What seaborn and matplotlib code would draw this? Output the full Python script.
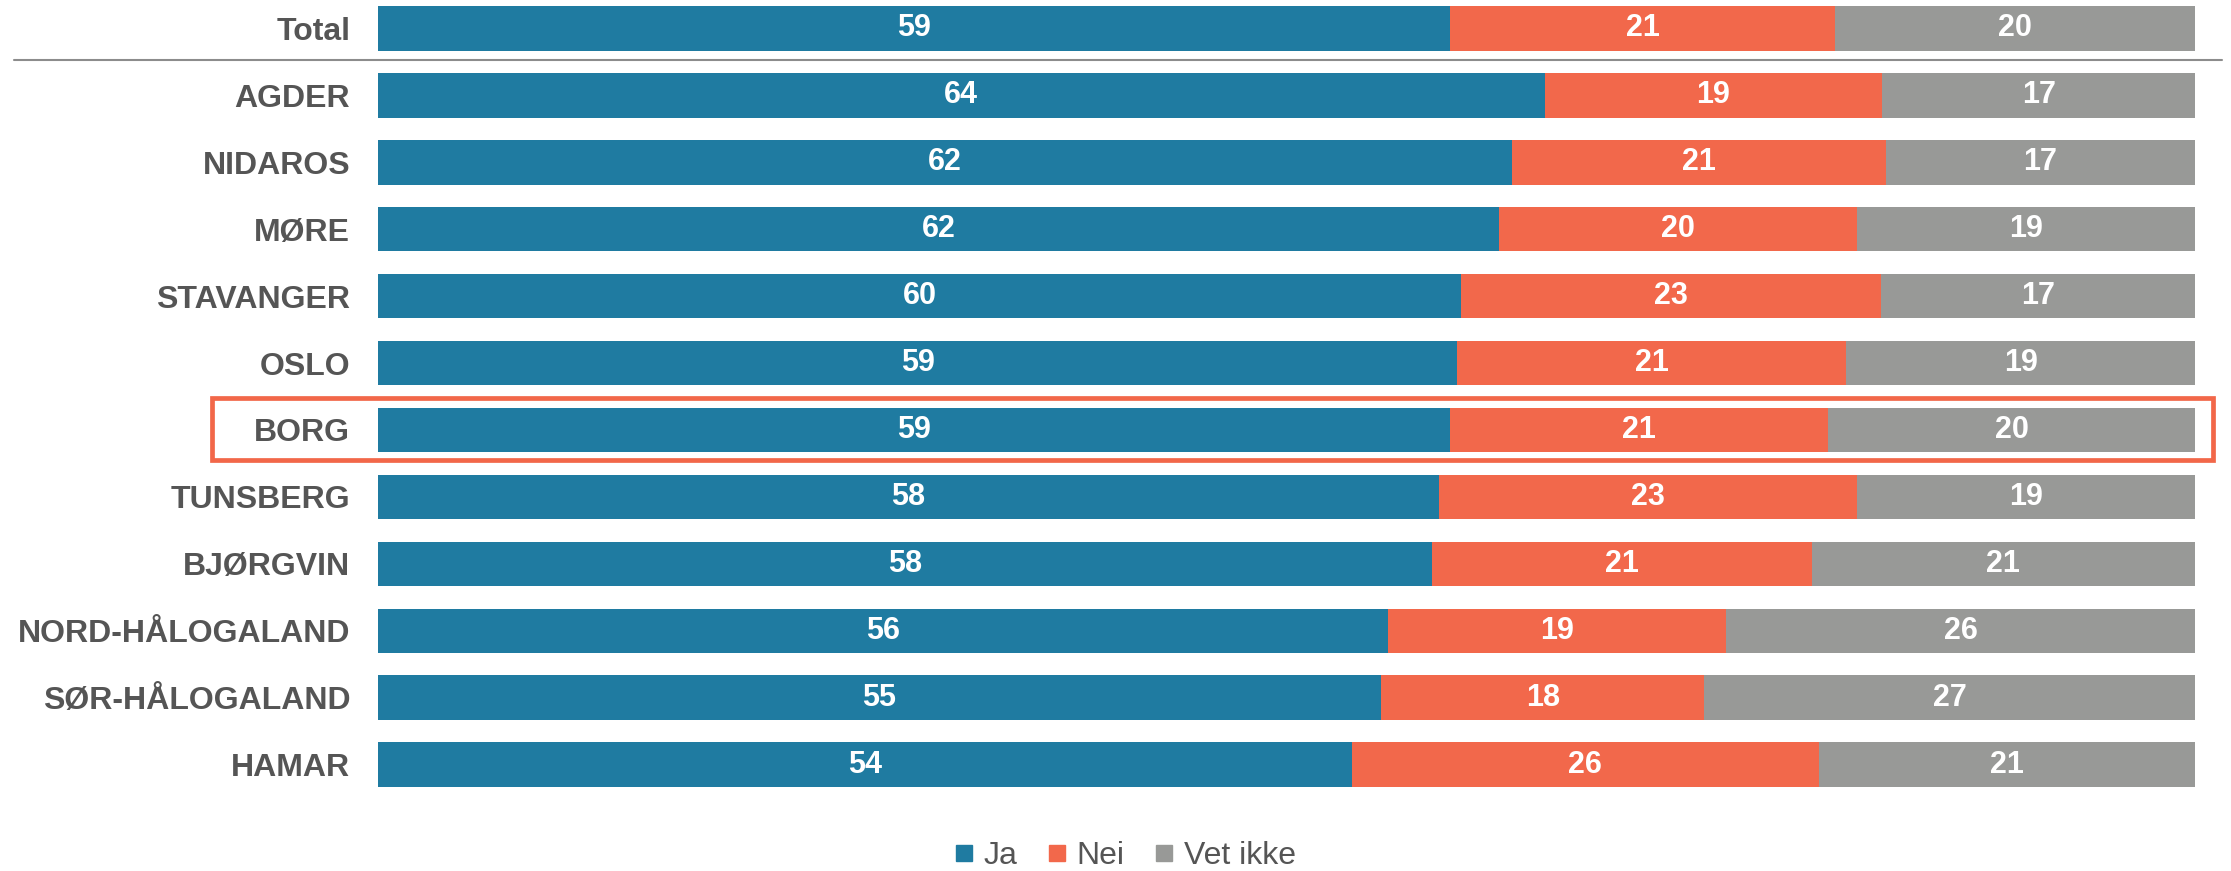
import numpy as np
import pandas as pd
import seaborn as sns
import matplotlib
matplotlib.use('Agg')
import matplotlib.pyplot as plt
from matplotlib.lines import Line2D
from matplotlib.patches import Rectangle

regions = ['Total', 'AGDER', 'NIDAROS', 'MØRE', 'STAVANGER', 'OSLO', 'BORG',
           'TUNSBERG', 'BJØRGVIN', 'NORD-HÅLOGALAND', 'SØR-HÅLOGALAND', 'HAMAR']
ja = [59.0, 64.2, 62.4, 61.7, 59.6, 59.4, 59.0, 58.4, 58.0, 55.6, 55.2, 53.6]
nei = [21.2, 18.6, 20.6, 19.7, 23.1, 21.4, 20.8, 23.0, 20.9, 18.6, 17.8, 25.7]
vet_ikke = [19.8, 17.2, 17.0, 18.6, 17.3, 19.2, 20.2, 18.6, 21.1, 25.8, 27.0, 20.7]
series = ['Ja', 'Nei', 'Vet ikke']
colors = ['#1F7BA1', '#F2684B', '#989997']

sns.set_style('white')
plt.rcParams['font.family'] = ['Liberation Sans', 'DejaVu Sans']

W, H = 2231, 871
fig = plt.figure(figsize=(W / 100, H / 100), dpi=100)
ax = fig.add_axes([378 / W, 71 / H, (2195 - 378) / W, 800 / H])

df = pd.DataFrame({'region': regions, 'Ja': ja, 'Nei': nei, 'Vet ikke': vet_ikke})
df['c1'] = df['Ja']
df['c2'] = df['Ja'] + df['Nei']
df['c3'] = df['c2'] + df['Vet ikke']

# stacked bars: draw cumulative totals back to front
for col, c in zip(['c3', 'c2', 'c1'], colors[::-1]):
    sns.barplot(data=df, x=col, y='region', orient='h', color=c, width=0.667,
                saturation=1, linewidth=0, ax=ax)

# value labels in the middle of each segment
starts = np.zeros(len(regions))
for s in series:
    vals = df[s].to_numpy()
    for i, v in enumerate(vals):
        ax.text(starts[i] + v / 2, i, f'{v:.0f}', ha='center', va='center',
                color='white', fontsize=22, fontweight='bold')
    starts += vals

ax.set_xlim(0, 100)
ax.set_ylim(11.527, -0.423)
ax.set_xlabel('')
ax.set_ylabel('')
ax.set_xticks([])
ax.set_yticks(range(len(regions)))
ax.set_yticklabels(regions, fontsize=23, fontweight='bold', color='#555555')
ax.tick_params(axis='y', length=0, pad=20)
sns.despine(ax=ax, left=True, bottom=True)

# separator under Total
fig.add_artist(Line2D([14 / W, 2222 / W], [1 - 60 / H] * 2, color='#8c8c8c', lw=1.5))

# highlight box around BORG
fig.add_artist(Rectangle((211.5 / W, 1 - 460 / H), (2212.5 - 211.5) / W, 62 / H,
                         fill=False, edgecolor='#F26749', lw=3.4))

handles = [Line2D([], [], marker='s', linestyle='none', markersize=12, color=c)
           for c in colors]
fig.legend(handles, series, loc='center', bbox_to_anchor=(0.504, 0.017), ncol=3,
           frameon=False, fontsize=23, labelcolor='#555555', handlelength=0.7,
           handletextpad=0.25, columnspacing=0.9, borderpad=0)

fig.savefig('out.png', dpi=100)
